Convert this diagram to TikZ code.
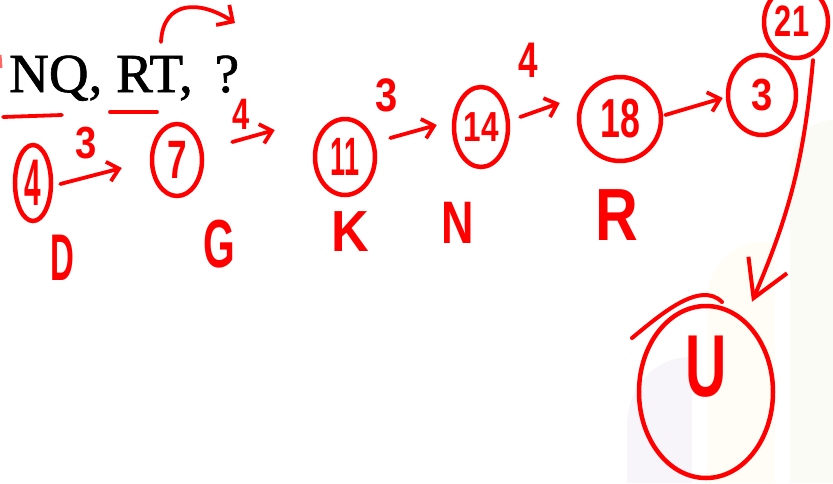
\documentclass[tikz,border=0pt]{standalone}
\usepackage{fontspec}
\setmainfont{Liberation Serif}[FakeBold=1.2]
\newfontfamily\hand{Liberation Sans}
\usetikzlibrary{arrows.meta,shapes.geometric}
\definecolor{ink}{RGB}{255,0,0}
\definecolor{lav}{RGB}{247,245,250}
\definecolor{bei}{RGB}{255,253,246}
\definecolor{grn}{RGB}{250,251,245}
\newcommand{\hsz}[1]{\hand\bfseries\fontsize{#1}{#1}\selectfont}
\tikzset{
  ring/.style={draw=ink, line width=4.5pt, ellipse, inner sep=0pt},
  arr/.style={draw=ink, line width=3.8pt, line cap=round,
    -{Straight Barb[length=11pt,width=20pt,line width=3.8pt]}},
  hw/.style={text=ink, inner sep=0pt},
  stroke/.style={draw=ink, line width=3.8pt, line cap=round},
}
\begin{document}
\begin{tikzpicture}[x=1pt,y=-1pt]
\useasboundingbox (0,0) rectangle (833,483);
% faint background shapes
\fill[lav] (627,483) -- (627,425) arc[start angle=180,end angle=270,x radius=63,y radius=68] -- (692,357) -- (692,483) -- cycle;
\fill[bei] (707,483) -- (707,300) arc[start angle=180,end angle=270,x radius=55,y radius=58] -- (775,242) -- (775,483) -- cycle;
\fill[grn] (790,483) -- (790,170) arc[start angle=180,end angle=270,x radius=43,y radius=50] -- (833,120) -- (833,483) -- cycle;

% question text
\node[anchor=base west, inner sep=0pt, font=\fontsize{55}{60}\selectfont] (q) at (9,92) {NQ, RT,\hspace{22pt}?};
\draw[ink!60, line width=3pt] (0,55) -- (1,68);
% underlines
\draw[stroke] (3,117) -- (62,115);
\draw[stroke] (110,112) -- (157,112);
% curved arrow above
\coordinate (c1) at (161,42);
\coordinate (c2) at (235,23);
\draw[arr, -{Straight Barb[length=12pt,width=24pt,line width=3.8pt]}] (c1) .. controls (163,0) and (200,0) .. (c2);

% rings
\node[ring, minimum width=36pt, minimum height=76pt] (e4) at (33,183) {};
\node[ring, minimum width=50pt, minimum height=72pt] (e7) at (177,160) {};
\node[ring, minimum width=60pt, minimum height=76pt] (e11) at (345,157) {};
\node[ring, minimum width=54pt, minimum height=80pt] (e14) at (481,127) {};
\node[ring, minimum width=82pt, minimum height=84pt] (e18) at (620,119) {};
\node[ring, minimum width=68pt, minimum height=80pt] (e3) at (762,95) {};
\node[ring, minimum width=64pt, minimum height=72pt] (e21) at (796,22) {};
\node[ring, minimum width=134pt, minimum height=172pt] (eU) at (706,392) {};
\draw[stroke, line width=4pt] (632,338) .. controls (660,315) and (700,280) .. (722,302);

% numbers in rings
\node[hw, font=\hsz{66}, xscale=0.45] (t4) at (e4) {4};
\node[hw, font=\hsz{54}, xscale=0.65] (t7) at (e7) {7};
\node[hw, font=\hsz{54}, xscale=0.5] (t11) at (e11) {11};
\node[hw, font=\hsz{42}, xscale=0.75] (t14) at (e14) {14};
\node[hw, font=\hsz{55}, xscale=0.65] (t18) at (e18) {18};
\node[hw, font=\hsz{45}, xscale=0.85] (t3) at (e3) {3};
\node[hw, font=\hsz{44}, xscale=0.7] (t21) at (792,21) {21};
\node[hw, font=\hsz{88}, xscale=0.65] (tU) at (706,367) {U};

% arrows between rings
\draw[arr] ([shift={(7,1)}]e4.east) -- ([shift={(-28,8)}]e7.west);
\draw[arr] ([shift={(28,-18)}]e7.east) -- ([shift={(-38,-27)}]e11.west);
\draw[arr] ([shift={(13,-19)}]e11.east) -- ([shift={(-15,-2)}]e14.west);
\draw[arr] ([shift={(10,-10)}]e14.east) -- ([shift={(-17,-16)}]e18.west);
\draw[arr] ([shift={(2,-4)}]e18.east) -- ([shift={(-3,3)}]e3.west);
\draw[arr, line width=4pt, -{Straight Barb[length=36pt,width=42pt,line width=4pt]}]
  ([shift={(17,0)}]e21.south) to[bend left=9] ([shift={(46,-2)}]eU.north);

% step labels
\node[hw, font=\hsz{45}, xscale=0.85] (s1) at (86,143) {3};
\node[hw, font=\hsz{44}, xscale=0.7] (s2) at (241,114) {4};
\node[hw, font=\hsz{47}, xscale=0.85] (s3) at (387,95) {3};
\node[hw, font=\hsz{50}, xscale=0.7] (s4) at (528,60) {4};

% letters
\node[hw, font=\hsz{66}, xscale=0.5] (lD) at (62,258) {D};
\node[hw, font=\hsz{68}, xscale=0.6] (lG) at (219,244) {G};
\node[hw, font=\hsz{58}, xscale=0.9] (lK) at (350,232) {K};
\node[hw, font=\hsz{60}, xscale=0.75] (lN) at (458,223) {N};
\node[hw, font=\hsz{74}, xscale=0.8] (lR) at (617,215) {R};
\end{tikzpicture}
\end{document}
